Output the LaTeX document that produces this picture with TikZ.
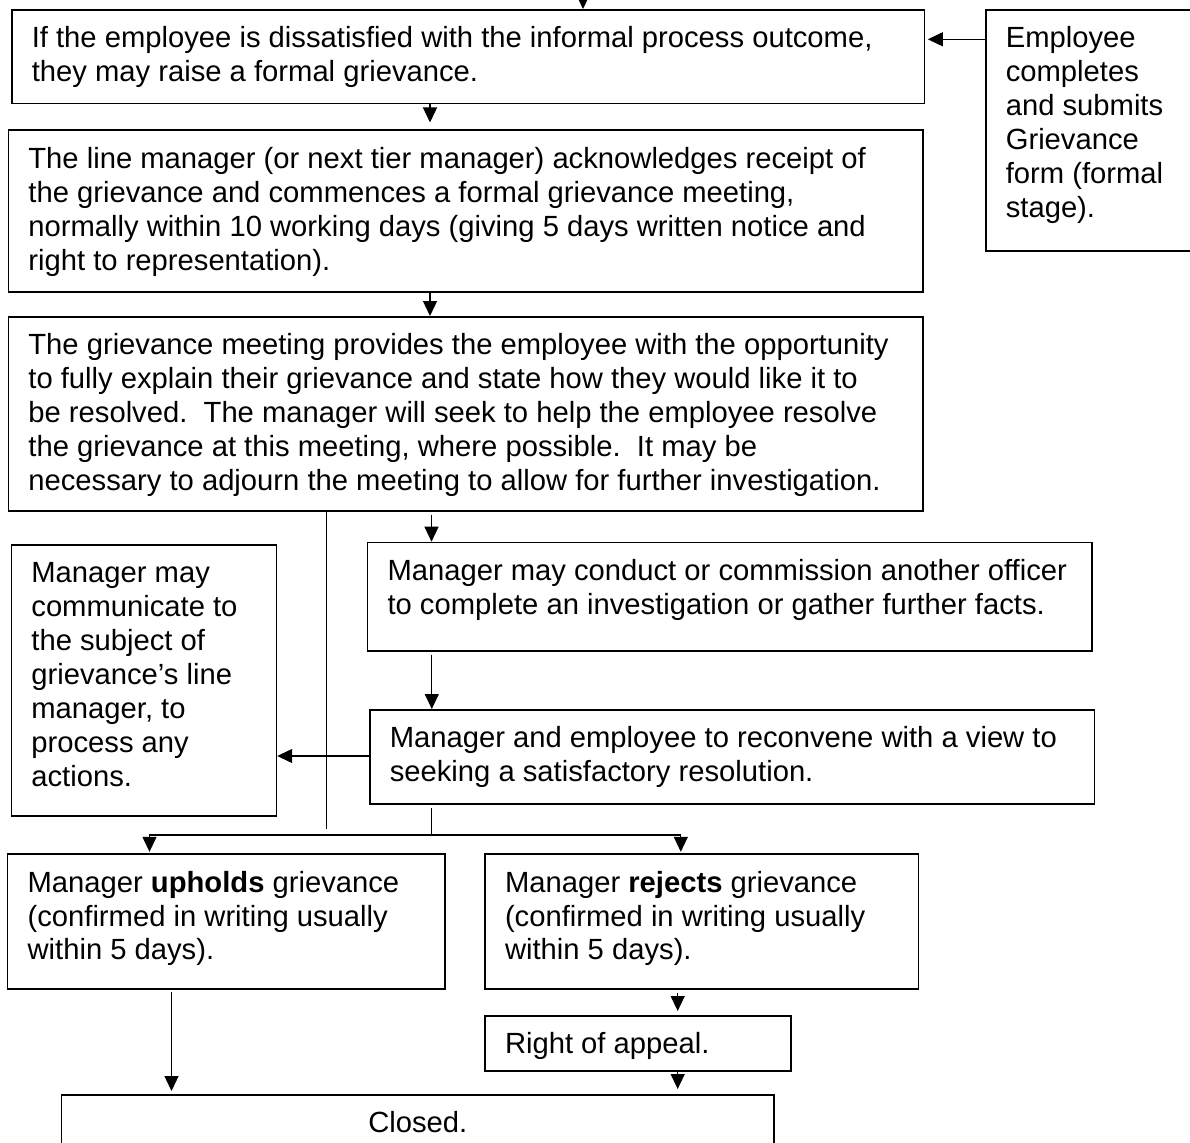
\documentclass[tikz,border=0pt]{standalone}
\usepackage{fontspec}
\setmainfont{Liberation Sans}
\usetikzlibrary{arrows.meta}
\newcommand{\bt}[3]{\parbox[t][#2][t]{#1}{\raggedright\leftskip=20pt\vspace*{14.3pt}\strut#3}}
\newcommand{\btc}[3]{\parbox[t][#2][t]{#1}{\centering\vspace*{14.3pt}\strut#3}}
\tikzset{
  box/.style={draw, line width=1.6pt, anchor=north west, inner sep=0pt,
    font=\fontsize{29.2}{33.9}\selectfont},
  conn/.style={line width=1.3pt},
  arr/.style={conn, -{Triangle[length=15pt,width=14pt]}}
}
\begin{document}
\begin{tikzpicture}[x=1pt,y=-1pt]
\useasboundingbox (0,0) rectangle (1190,1142);

\node[box] (b1) at (11,9) {\bt{912.5pt}{93.7pt}{If the employee is dissatisfied with the informal process outcome,\\they may raise a formal grievance.}};
\node[box] (emp) at (985,9) {\bt{215pt}{241pt}{Employee\\completes\\and submits\\Grievance\\form (formal\\stage).}};
\node[box] (b2) at (7.6,129.5) {\bt{914.4pt}{161.5pt}{The line manager (or next tier manager) acknowledges receipt of\\the grievance and commences a formal grievance meeting,\\normally within 10 working days (giving 5 days written notice and\\right to representation).}};
\node[box] (b3) at (7.6,316) {\bt{914.4pt}{194pt}{The grievance meeting provides the employee with the opportunity\\to fully explain their grievance and state how they would like it to\\be resolved.\ \ The manager will seek to help the employee resolve\\the grievance at this meeting, where possible.\ \ It may be\\necessary to adjourn the meeting to allow for further investigation.}};
\node[box] (comm) at (10.6,544) {\bt{265pt}{271pt}{Manager may\\communicate to\\the subject of\\grievance’s line\\manager, to\\process any\\actions.}};
\node[box] (inv) at (366.7,541.7) {\bt{724.7pt}{108.3pt}{Manager may conduct or commission another officer\\to complete an investigation or gather further facts.}};
\node[box] (rec) at (369,709) {\bt{724.7pt}{94pt}{Manager and employee to reconvene with a view to\\seeking a satisfactory resolution.}};
\node[box] (up) at (6.8,853.3) {\bt{437.2pt}{134.7pt}{Manager \textbf{upholds} grievance\\(confirmed in writing usually\\within 5 days).}};
\node[box] (rej) at (484.2,853.3) {\bt{433.4pt}{134.7pt}{Manager \textbf{rejects} grievance\\(confirmed in writing usually\\within 5 days).}};
\node[box] (app) at (484.2,1015) {\bt{305.8pt}{55pt}{Right of appeal.}};
\node[box] (closed) at (60.7,1094) {\btc{712.7pt}{80pt}{Closed.}};

% helper coordinates
\coordinate (start) at (583,-20);
\coordinate (yA) at (0,39.3);
\coordinate (xA) at (430,0);
\coordinate (xB) at (431.5,0);
\coordinate (xV) at (326.5,829);
\coordinate (yR) at (0,756);
\coordinate (bus) at (431.8,835);
\coordinate (xU) at (149.5,0);
\coordinate (xJ) at (680.8,0);
\coordinate (xD) at (171.5,0);
\coordinate (xE) at (677.7,0);

\draw[arr] (start) -- (start |- b1.north);
\draw[arr, shorten >=2.7pt] (emp.west |- yA) -- (b1.east |- yA);
\draw[arr, shorten >=7pt] (b1.south -| xA) -- (b2.north -| xA);
\draw[arr] (b2.south -| xA) -- (b3.north -| xA);
\draw[arr, shorten <=3pt] (b3.south -| xB) -- (inv.north -| xB);
\draw[conn] (b3.south -| xV) -- (xV);
\draw[arr, shorten <=3pt] (inv.south -| bus) -- (rec.north -| bus);
\draw[arr] (rec.west |- yR) -- (comm.east |- yR);
\draw[conn, shorten <=3pt] (rec.south -| bus) -- (bus);
\draw[arr, shorten >=1.5pt] (bus) -| (up.north -| xU);
\draw[arr, shorten >=1.5pt] (bus) -| (rej.north -| xJ);
\draw[arr, shorten <=2.7pt, shorten >=3pt] (up.south -| xD) -- (closed.north -| xD);
\draw[arr, shorten <=3pt, shorten >=4pt] (rej.south -| xE) -- (app.north -| xE);
\draw[arr, shorten >=5pt] (app.south -| xE) -- (closed.north -| xE);
\end{tikzpicture}
\end{document}
